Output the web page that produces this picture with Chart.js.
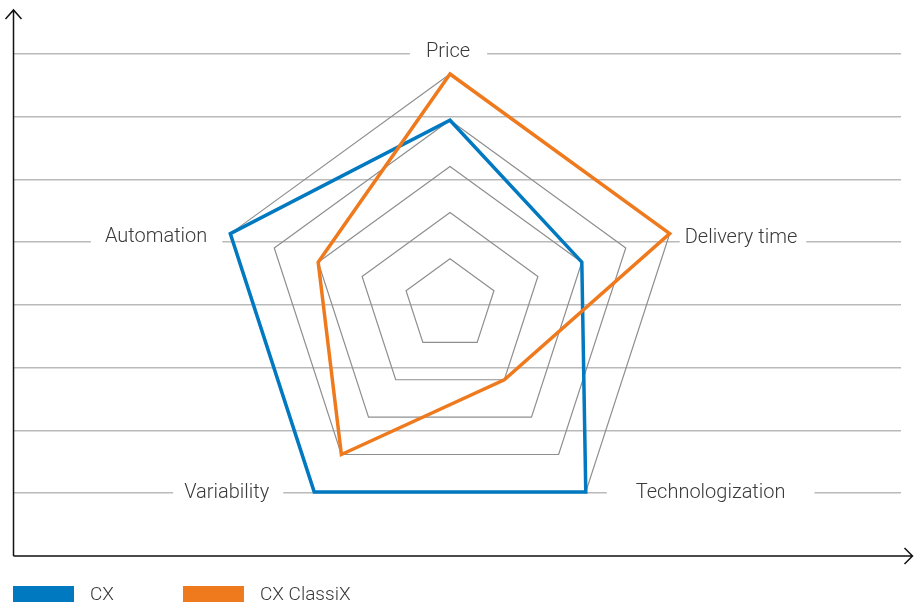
<!DOCTYPE html>
<html>
<head>
<meta charset="utf-8">
<script src="https://cdn.jsdelivr.net/npm/chart.js@4.4.1/dist/chart.umd.min.js"></script>
<style>
  html, body { margin: 0; padding: 0; background: #fff; }
  #wrap { position: relative; width: 914px; height: 604px; }
  #wrap canvas { position: absolute; left: 0; top: 0; }
</style>
</head>
<body>
<div id="wrap">
  <canvas id="bg-chart" width="914" height="604"></canvas>
  <canvas id="radar-chart" width="914" height="604"></canvas>
</div>
<script>
// chart data
var axisLabels = ["Price", "Delivery time", "Technologization", "Variability", "Automation"];
var seriesNames = ["CX", "CX ClassiX"];
var cxValues = [4, 3, 5, 5, 5];
var classixValues = [5, 5, 2, 4, 3];
var ratingMax = 5;
var backdropMax = 8.7; // horizontal guide lines at 1..8

var blue = "#0079c1";
var orange = "#ef7a1e";
var textColor = "#3a3a3a";
var labelFont = "300 20px Roboto, 'Liberation Sans', sans-serif";
var legendFont = "300 19px Roboto, 'Liberation Sans', sans-serif";

// where each point label sits relative to its outer vertex
var labelPlace = [
  { align: "center", dx: -2, dy: -22, padL: 16, padR: 17 },
  { align: "left", dx: 15, dy: 4, padL: 5, padR: 9 },
  { align: "left", dx: 50, dy: 1, padL: 29, padR: 29 },
  { align: "right", dx: -45, dy: 1, padL: 11, padR: 14 },
  { align: "right", dx: -23, dy: 3, padL: 14, padR: 15 },
];

var axisArrows = {
  id: "axisArrows",
  afterDraw(chart) {
    var ctx = chart.ctx;
    var area = chart.chartArea;
    var y0 = chart.scales.y.getPixelForValue(0);
    var x0 = area.left - 0.5;
    var xe = chart.width - 1.5;
    ctx.save();
    ctx.strokeStyle = "#111";
    ctx.lineWidth = 1.5;
    ctx.beginPath();
    ctx.moveTo(x0, y0);
    ctx.lineTo(x0, area.top);
    ctx.moveTo(x0, y0);
    ctx.lineTo(xe, y0);
    ctx.moveTo(x0 - 8, area.top + 9);
    ctx.lineTo(x0, area.top);
    ctx.lineTo(x0 + 8, area.top + 9);
    ctx.moveTo(xe - 8, y0 - 8);
    ctx.lineTo(xe, y0);
    ctx.lineTo(xe - 8, y0 + 8);
    ctx.stroke();
    ctx.restore();
  },
};

var pointLabelPlugin = {
  id: "pointLabelPlugin",
  beforeDatasetsDraw(chart) {
    var scale = chart.scales.r;
    var ctx = chart.ctx;
    ctx.save();
    ctx.font = labelFont;
    ctx.textBaseline = "middle";
    ctx.textAlign = "left";
    axisLabels.forEach((text, i) => {
      var p = scale.getPointPosition(i, scale.drawingArea);
      var pl = labelPlace[i];
      var w = ctx.measureText(text).width;
      var x = p.x + pl.dx;
      var y = p.y + pl.dy;
      var left = pl.align === "center" ? x - w / 2 : pl.align === "right" ? x - w : x;
      ctx.fillStyle = "#fff";
      ctx.fillRect(left - pl.padL, y - 12, w + pl.padL + pl.padR, 24);
      ctx.fillStyle = textColor;
      ctx.fillText(text, left, y);
    });
    ctx.restore();
  },
};

var legendPlugin = {
  id: "bottomLegend",
  afterDraw(chart) {
    var ctx = chart.ctx;
    var colors = [blue, orange];
    var x = 13;
    ctx.save();
    ctx.font = legendFont;
    ctx.textBaseline = "middle";
    seriesNames.forEach((name, i) => {
      ctx.fillStyle = colors[i];
      ctx.fillRect(x, 586, 61, 16);
      ctx.fillStyle = textColor;
      ctx.fillText(name, x + 77, 595);
      x = x + 77 + ctx.measureText(name).width + 69;
    });
    ctx.restore();
  },
};

function load_charts() {
  new Chart(document.getElementById("bg-chart"), {
    type: "line",
    data: { datasets: [] },
    options: {
      responsive: false,
      animation: false,
      layout: { padding: { left: 14, right: 13, top: 10, bottom: 48 } },
      plugins: { legend: { display: false }, tooltip: { enabled: false } },
      scales: {
        x: { type: "linear", display: false, min: 0, max: 1 },
        y: {
          type: "linear",
          min: 0,
          max: backdropMax,
          ticks: { display: false, stepSize: 1 },
          border: { display: false },
          grid: {
            drawTicks: false,
            lineWidth: 1.5,
            color: (c) =>
              c.tick && c.tick.value > 0 && Number.isInteger(c.tick.value)
                ? "#bababa"
                : "rgba(0,0,0,0)",
          },
        },
      },
    },
    plugins: [axisArrows],
  });

  new Chart(document.getElementById("radar-chart"), {
    type: "radar",
    data: {
      labels: axisLabels,
      datasets: [
        {
          label: seriesNames[0],
          data: cxValues,
          borderColor: blue,
          backgroundColor: blue,
          order: 1,
        },
        {
          label: seriesNames[1],
          data: classixValues,
          borderColor: orange,
          backgroundColor: orange,
          order: 0,
        },
      ],
    },
    options: {
      responsive: false,
      animation: false,
      layout: { padding: { left: 0, right: 14, top: 74, bottom: 68 } },
      plugins: { legend: { display: false }, tooltip: { enabled: false } },
      elements: {
        line: { tension: 0, borderWidth: 3.5, fill: false, borderJoinStyle: "miter" },
        point: { radius: 0, hoverRadius: 0 },
      },
      datasets: { radar: { clip: false } },
      scales: {
        r: {
          min: 0,
          max: ratingMax,
          ticks: { display: false, stepSize: 1 },
          angleLines: { display: false },
          pointLabels: { display: false },
          grid: { color: "#8e8e8e", lineWidth: 1.2 },
        },
      },
    },
    plugins: [pointLabelPlugin, legendPlugin],
  });
}

load_charts();
</script>
</body>
</html>
